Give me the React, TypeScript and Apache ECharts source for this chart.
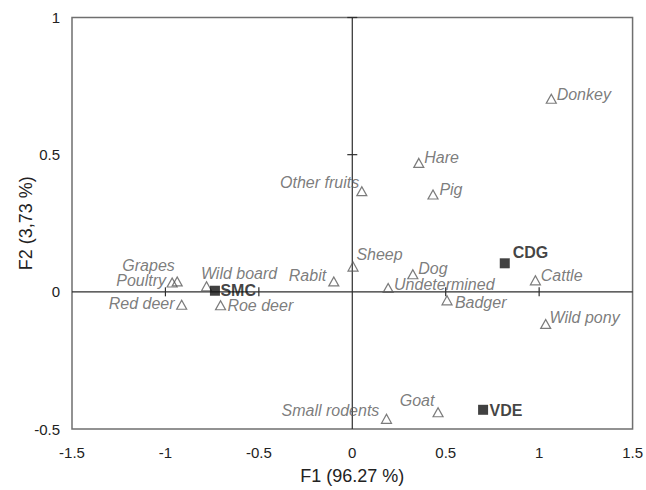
import React, { useEffect, useRef } from "react";
import * as echarts from "echarts";

// Projection of the taxa (open triangles) on the first two factors
const taxa = [
  "Donkey", "Hare", "Pig", "Other fruits", "Sheep", "Rabit", "Dog", "Undetermined",
  "Badger", "Cattle", "Wild pony", "Small rodents", "Goat", "Grapes", "Poultry",
  "Red deer", "Wild board", "Roe deer",
];
const taxaF1 = [
  1.065, 0.356, 0.432, 0.051, 0.004, -0.099, 0.324, 0.192,
  0.507, 0.98, 1.035, 0.183, 0.459, -0.937, -0.964,
  -0.913, -0.78, -0.705,
];
const taxaF2 = [
  0.704, 0.47, 0.355, 0.367, 0.092, 0.038, 0.064, 0.014,
  -0.031, 0.042, -0.117, -0.463, -0.439, 0.038, 0.034,
  -0.047, 0.02, -0.049,
];

// Projection of the sites (filled squares)
const sites = ["CDG", "SMC", "VDE"];
const sitesF1 = [0.816, -0.735, 0.7];
const sitesF2 = [0.104, 0.004, -0.43];

// Axis ranges and the ticks drawn across the zero lines
const f1Range = [-1.5, 1.5];
const f2Range = [-0.5, 1];
const f1CrossTicks = [-1, -0.5, 0.5, 1];
const f2CrossTicks = [0.5, 1];

const xTitle = "F1 (96.27 %)";
const yTitle = "F2 (3,73 %)";

// Label placement around each point: [align, dx, dy] in pixels from the point
const labelPlacement: Record<string, [string, number, number]> = {
  Donkey: ["left", 6, -4],
  Hare: ["left", 6, -4.5],
  Pig: ["left", 7, -4.5],
  "Other fruits": ["right", -2, -8],
  Sheep: ["left", 4, -12],
  Rabit: ["right", -7, -5],
  Dog: ["left", 6, -5],
  Undetermined: ["left", 6.5, -2.5],
  Badger: ["left", 8.5, 3],
  Cattle: ["left", 6, -4],
  "Wild pony": ["left", 4.5, -5.5],
  "Small rodents": ["right", -6.5, -7.5],
  Goat: ["right", -3, -11],
  Grapes: ["center", -28, -15],
  Poultry: ["right", -5.5, -1],
  "Red deer": ["right", -6.5, -0.5],
  "Wild board": ["left", -5, -12],
  "Roe deer": ["left", 7.5, 0.5],
  CDG: ["left", 8, -11],
  SMC: ["left", 5.5, -0.5],
  VDE: ["left", 6.5, 0.3],
};

const FONT = "'Liberation Sans', Arial, Helvetica, sans-serif";
const GREY = "#5a5a5a";
const TRI = [10, 9];
const SQ = [10, 10];

function placedLabel(name: string, size: number[], base: any) {
  const [align, dx, dy] = labelPlacement[name] || ["left", 6, 0];
  return {
    ...base,
    show: true,
    formatter: name,
    position: [size[0] / 2 + dx, size[1] / 2 + dy],
    align,
    verticalAlign: "middle",
  };
}

export default function App() {
  const ref = useRef<HTMLDivElement>(null);

  useEffect(() => {
    if (!ref.current) return;
    const chart = echarts.init(ref.current, undefined, { renderer: "svg" });

    const taxaLabel = {
      fontFamily: FONT,
      fontSize: 16,
      fontStyle: "italic",
      color: GREY,
    };
    const siteLabel = {
      fontFamily: FONT,
      fontSize: 16,
      fontWeight: "bold",
      color: "#111",
    };

    const taxaData = taxa.map((name, i) => ({
      name,
      value: [taxaF1[i], taxaF2[i]],
      label: placedLabel(name, TRI, taxaLabel),
    }));
    const siteData = sites.map((name, i) => ({
      name,
      value: [sitesF1[i], sitesF2[i]],
      label: placedLabel(name, SQ, siteLabel),
    }));

    const lineStyle = { stroke: "#2e2e2e", lineWidth: 1.2 };

    chart.setOption({
      animation: false,
      backgroundColor: "#fff",
      grid: {
        left: 72,
        right: 13,
        top: 17.5,
        bottom: 57.5,
        show: true,
        borderColor: "#6f6f6f",
        borderWidth: 1.5,
        backgroundColor: "transparent",
      },
      xAxis: {
        type: "value",
        min: f1Range[0],
        max: f1Range[1],
        interval: 0.5,
        axisLine: { show: false, onZero: false },
        axisTick: { show: false },
        splitLine: { show: false },
        axisLabel: { fontFamily: FONT, fontSize: 15, color: "#222", margin: 16 },
        name: xTitle,
        nameLocation: "middle",
        nameGap: 38,
        nameMoveOverlap: false,
        nameTextStyle: { fontFamily: FONT, fontSize: 18, color: "#222" },
      },
      yAxis: {
        type: "value",
        min: f2Range[0],
        max: f2Range[1],
        interval: 0.5,
        axisLine: { show: false, onZero: false },
        axisTick: { show: false },
        splitLine: { show: false },
        axisLabel: { fontFamily: FONT, fontSize: 15, color: "#222", margin: 12 },
        name: yTitle,
        nameLocation: "middle",
        nameGap: 37,
        nameMoveOverlap: false,
        nameTextStyle: { fontFamily: FONT, fontSize: 18, color: "#222" },
      },
      series: [
        {
          // zero lines through the origin
          type: "custom",
          z: 1,
          silent: true,
          data: [[0, 0]],
          renderItem: (_params: any, api: any) => {
            const l = api.coord([f1Range[0], 0]);
            const r = api.coord([f1Range[1], 0]);
            const b = api.coord([0, f2Range[0]]);
            const t = api.coord([0, f2Range[1]]);
            return {
              type: "group",
              children: [
                { type: "line", shape: { x1: l[0], y1: l[1], x2: r[0], y2: r[1] }, style: lineStyle },
                { type: "line", shape: { x1: b[0], y1: b[1], x2: t[0], y2: t[1] }, style: lineStyle },
              ],
            };
          },
        },
        {
          // ticks crossing the horizontal zero line
          type: "custom",
          z: 1,
          silent: true,
          data: f1CrossTicks.map((v) => [v, 0]),
          renderItem: (_params: any, api: any) => {
            const p = api.coord([api.value(0), 0]);
            return {
              type: "line",
              shape: { x1: p[0], y1: p[1] - 4.5, x2: p[0], y2: p[1] + 4.5 },
              style: lineStyle,
            };
          },
        },
        {
          // ticks crossing the vertical zero line
          type: "custom",
          z: 1,
          silent: true,
          data: f2CrossTicks.map((v) => [0, v]),
          renderItem: (_params: any, api: any) => {
            const p = api.coord([0, api.value(1)]);
            return {
              type: "line",
              shape: { x1: p[0] - 5, y1: p[1], x2: p[0] + 5, y2: p[1] },
              style: lineStyle,
            };
          },
        },
        {
          name: "Taxa",
          type: "scatter",
          z: 3,
          symbol: "triangle",
          symbolSize: TRI,
          itemStyle: { color: "rgba(255,255,255,0)", borderColor: GREY, borderWidth: 1.2 },
          data: taxaData,
        },
        {
          name: "Sites",
          type: "scatter",
          z: 4,
          symbol: "rect",
          symbolSize: SQ,
          itemStyle: { color: "#111" },
          data: siteData,
        },
      ],
    });

    return () => chart.dispose();
  }, []);

  return (
    <div
      ref={ref}
      style={{ position: "absolute", left: 0, top: 0, width: 646, height: 490 }}
    />
  );
}
